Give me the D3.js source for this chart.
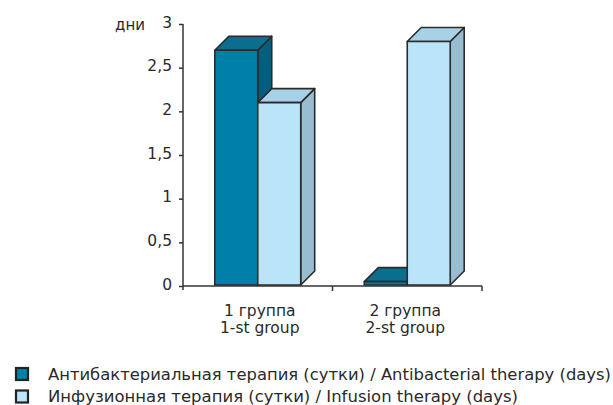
<!DOCTYPE html>
<html>
<head>
<meta charset="utf-8">
<script src="https://cdn.jsdelivr.net/npm/d3@7"></script>
<style>
  body { margin: 0; background: #fff; }
  text { font-family: "DejaVu Sans", "Noto Sans", sans-serif; fill: #2a2a2a; }
</style>
</head>
<body>
<div id="chart"></div>
<script>
const groups = ["1 группа|1-st group", "2 группа|2-st group"];
const seriesNames = [
  "Антибактериальная терапия (сутки) / Antibacterial therapy (days)",
  "Инфузионная терапия (сутки) / Infusion therapy (days)"
];
const antibacterial = [2.7, 0.05];
const infusion = [2.1, 2.8];
const yTicks = [0, 0.5, 1, 1.5, 2, 2.5, 3];
const yUnit = "дни";

const width = 613, height = 405;
const depth = 14;
const faces = [
  {front: "#0080a8", top: "#0a6e8f", side: "#005e7e"},
  {front: "#bae4f7", top: "#a7d1e6", side: "#98bdd1"}
];

const svg = d3.select("#chart")
  .append("svg")
    .attr("width", width)
    .attr("height", height);

const x0 = d3.scaleBand()
  .domain(groups)
  .range([183, 482]);

const x1 = d3.scaleBand()
  .domain([0, 1])
  .range([0, x0.bandwidth()])
  .paddingInner(0)
  .paddingOuter(0.74);

const y = d3.scaleLinear()
  .domain([0, 3])
  .range([286, 24]);

// y axis
const yAxis = svg.append("g")
  .attr("transform", "translate(183,0)")
  .call(d3.axisLeft(y).tickValues(yTicks).tickSize(4).tickPadding(7)
    .tickFormat(d => String(d).replace(".", ",")));
yAxis.select(".domain").attr("d", `M0,${y(3)}V${y(0) + 4}`);
yAxis.selectAll("line, .domain").attr("stroke", "#333").attr("stroke-width", 1.5);
yAxis.selectAll("text")
  .style("font-size", "15.5px")
  .style("font-family", "'DejaVu Sans', sans-serif")
  .attr("dy", "0.2em")
  .attr("fill", "#2a2a2a");

svg.append("text")
  .attr("x", 145).attr("y", 30)
  .attr("text-anchor", "end")
  .style("font-size", "15px")
  .text(yUnit);

// x axis
svg.append("line")
  .attr("x1", 183).attr("x2", 482)
  .attr("y1", y(0)).attr("y2", y(0))
  .attr("stroke", "#333").attr("stroke-width", 1.5);
svg.selectAll(".xtick")
  .data(groups.map(g => x0(g) + x0.bandwidth()))
  .join("line")
    .attr("x1", d => d).attr("x2", d => d)
    .attr("y1", y(0)).attr("y2", y(0) + 5)
    .attr("stroke", "#333").attr("stroke-width", 1.5);

const labels = svg.append("g");
groups.forEach((g, i) => {
  const cx = x0(g) + x1(0) + x1.bandwidth() + (i === 0 ? 2 : -2);
  const lines = g.split("|");
  lines.forEach((t, k) => {
    labels.append("text")
      .attr("x", cx).attr("y", 316 + k * 17)
      .attr("text-anchor", "middle")
      .style("font-size", "15.5px")
      .text(t);
  });
});

// 3D bars
const bars = [];
groups.forEach((g, i) => {
  bars.push({g, s: 0, v: antibacterial[i]});
  bars.push({g, s: 1, v: infusion[i]});
});

const barG = svg.append("g")
  .attr("stroke", "#2b2b2b")
  .attr("stroke-width", 1.6)
  .attr("stroke-linejoin", "round");

bars.forEach(b => {
  const xl = x0(b.g) + x1(b.s);
  const xr = xl + x1.bandwidth();
  const yt = y(b.v);
  const yb = y(0) - 1;
  const c = faces[b.s];
  const g = barG.append("g");
  g.append("path")
    .attr("fill", c.side)
    .attr("d", `M${xr},${yt}L${xr + depth},${yt - depth}L${xr + depth},${yb - depth}L${xr},${yb}Z`);
  g.append("path")
    .attr("fill", c.top)
    .attr("d", `M${xl},${yt}L${xl + depth},${yt - depth}L${xr + depth},${yt - depth}L${xr},${yt}Z`);
  g.append("rect")
    .attr("x", xl).attr("y", yt)
    .attr("width", xr - xl).attr("height", yb - yt)
    .attr("fill", c.front);
});

// legend
const legendWidths = [563, 470];
const legend = svg.append("g")
  .selectAll("g")
  .data(seriesNames)
  .join("g")
    .attr("transform", (d, i) => `translate(0,${374 + i * 22.5})`);
legend.append("rect")
  .attr("x", 16).attr("y", -6)
  .attr("width", 12).attr("height", 12)
  .attr("fill", (d, i) => faces[i].front)
  .attr("stroke", "#222").attr("stroke-width", 2.2);
legend.append("text")
  .attr("x", 48).attr("y", 5.5)
  .style("font-size", "15px")
  .attr("textLength", (d, i) => legendWidths[i])
  .attr("lengthAdjust", "spacingAndGlyphs")
  .text(d => d);
</script>
</body>
</html>
